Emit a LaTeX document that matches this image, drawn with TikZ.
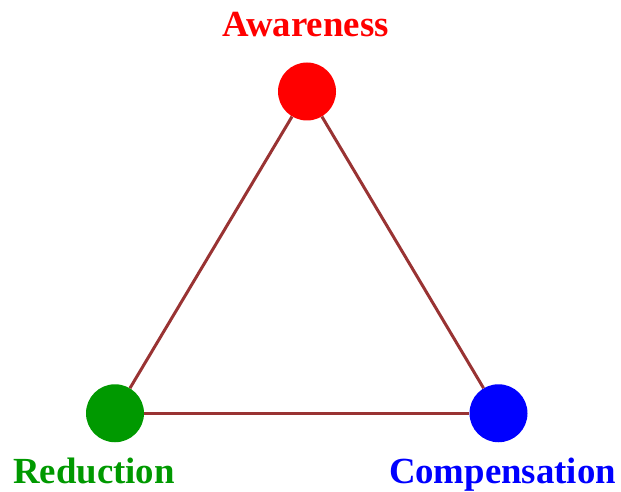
\documentclass[tikz,border=0pt]{standalone}
\usepackage{fontspec}
\setmainfont{Liberation Serif}
\definecolor{edgebrown}{RGB}{153,51,51}
\definecolor{dotred}{RGB}{255,0,0}
\definecolor{dotgreen}{RGB}{0,153,0}
\definecolor{dotblue}{RGB}{0,0,255}
\begin{document}
\begin{tikzpicture}[x=1pt,y=1pt,
  dot/.style={circle,minimum size=58pt,inner sep=0pt},
  lbl/.style={anchor=base,font=\fontsize{36.8}{40}\selectfont\bfseries,inner sep=0pt},
  edge/.style={draw=edgebrown,line width=3pt}]
\useasboundingbox (0,0) rectangle (621,491);
\node[dot,fill=dotred] (a) at (307,399.5) {};
\node[dot,fill=dotgreen] (r) at (115,77.75) {};
\node[dot,fill=dotblue] (c) at (498.5,77.75) {};
\draw[edge] (a) -- (r);
\draw[edge] (r) -- (c);
\draw[edge] (c) -- (a);
\node[lbl,text=dotred] (la) at (305.5,454) {Awareness};
\node[lbl,text=dotgreen] (lr) at (94,8) {Reduction};
\node[lbl,text=dotblue] (lc) at (502.5,8) {Compensation};
\end{tikzpicture}
\end{document}
